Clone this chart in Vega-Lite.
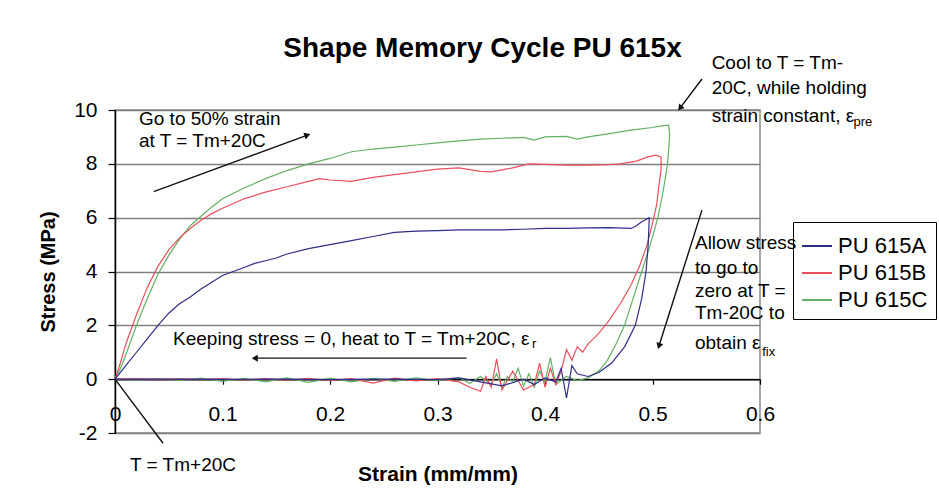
{
  "$schema": "https://vega.github.io/schema/vega-lite/v6.json",
  "width": 645,
  "height": 323,
  "autosize": "none",
  "padding": {"left": 115, "top": 110, "right": 179, "bottom": 71},
  "background": "white",
  "title": {"text": "Shape Memory Cycle PU 615x", "font": "Liberation Sans", "fontSize": 28, "fontWeight": "bold", "color": "#000000", "anchor": "middle", "dx": 45, "offset": -9},
  "config": {"view": {"stroke": "#8a8a8a", "strokeWidth": 1.5}, "font": "Liberation Sans"},
  "datasets": {
    "curves": [
      {"series":"PU 615C","i":1,"strain":0,"stress":0},{"series":"PU 615C","i":2,"strain":0.005,"stress":0.4},{"series":"PU 615C","i":3,"strain":0.01,"stress":0.9},{"series":"PU 615C","i":4,"strain":0.02,"stress":2.0},{"series":"PU 615C","i":5,"strain":0.03,"stress":3.0},{"series":"PU 615C","i":6,"strain":0.04,"stress":3.9},{"series":"PU 615C","i":7,"strain":0.05,"stress":4.6},{"series":"PU 615C","i":8,"strain":0.06,"stress":5.2},{"series":"PU 615C","i":9,"strain":0.07,"stress":5.7},{"series":"PU 615C","i":10,"strain":0.08,"stress":6.05},{"series":"PU 615C","i":11,"strain":0.09,"stress":6.4},{"series":"PU 615C","i":12,"strain":0.1,"stress":6.7},{"series":"PU 615C","i":13,"strain":0.12,"stress":7.1},{"series":"PU 615C","i":14,"strain":0.14,"stress":7.45},{"series":"PU 615C","i":15,"strain":0.16,"stress":7.75},{"series":"PU 615C","i":16,"strain":0.18,"stress":8.0},{"series":"PU 615C","i":17,"strain":0.2,"stress":8.2},{"series":"PU 615C","i":18,"strain":0.22,"stress":8.45},{"series":"PU 615C","i":19,"strain":0.24,"stress":8.55},{"series":"PU 615C","i":20,"strain":0.26,"stress":8.62},{"series":"PU 615C","i":21,"strain":0.28,"stress":8.7},{"series":"PU 615C","i":22,"strain":0.3,"stress":8.78},{"series":"PU 615C","i":23,"strain":0.32,"stress":8.85},{"series":"PU 615C","i":24,"strain":0.34,"stress":8.92},{"series":"PU 615C","i":25,"strain":0.36,"stress":8.95},{"series":"PU 615C","i":26,"strain":0.38,"stress":8.98},{"series":"PU 615C","i":27,"strain":0.39,"stress":8.88},{"series":"PU 615C","i":28,"strain":0.4,"stress":9.0},{"series":"PU 615C","i":29,"strain":0.42,"stress":9.02},{"series":"PU 615C","i":30,"strain":0.43,"stress":8.92},{"series":"PU 615C","i":31,"strain":0.44,"stress":9.0},{"series":"PU 615C","i":32,"strain":0.46,"stress":9.12},{"series":"PU 615C","i":33,"strain":0.48,"stress":9.25},{"series":"PU 615C","i":34,"strain":0.5,"stress":9.35},{"series":"PU 615C","i":35,"strain":0.51,"stress":9.42},{"series":"PU 615C","i":36,"strain":0.515,"stress":9.44},{"series":"PU 615C","i":37,"strain":0.516,"stress":9.1},{"series":"PU 615C","i":38,"strain":0.514,"stress":8.0},{"series":"PU 615C","i":39,"strain":0.51,"stress":7.0},{"series":"PU 615C","i":40,"strain":0.505,"stress":6.0},{"series":"PU 615C","i":41,"strain":0.498,"stress":5.0},{"series":"PU 615C","i":42,"strain":0.49,"stress":4.0},{"series":"PU 615C","i":43,"strain":0.482,"stress":3.0},{"series":"PU 615C","i":44,"strain":0.474,"stress":2.0},{"series":"PU 615C","i":45,"strain":0.466,"stress":1.3},{"series":"PU 615C","i":46,"strain":0.458,"stress":0.7},{"series":"PU 615C","i":47,"strain":0.45,"stress":0.3},{"series":"PU 615C","i":48,"strain":0.44,"stress":0.05},{"series":"PU 615C","i":49,"strain":0.43,"stress":-0.05},{"series":"PU 615C","i":50,"strain":0.42,"stress":0.1},{"series":"PU 615C","i":51,"strain":0.41,"stress":-0.2},{"series":"PU 615C","i":52,"strain":0.405,"stress":0.8},{"series":"PU 615C","i":53,"strain":0.4,"stress":-0.1},{"series":"PU 615C","i":54,"strain":0.395,"stress":0.3},{"series":"PU 615C","i":55,"strain":0.39,"stress":-0.3},{"series":"PU 615C","i":56,"strain":0.385,"stress":0.2},{"series":"PU 615C","i":57,"strain":0.38,"stress":-0.25},{"series":"PU 615C","i":58,"strain":0.375,"stress":0.4},{"series":"PU 615C","i":59,"strain":0.37,"stress":-0.1},{"series":"PU 615C","i":60,"strain":0.365,"stress":0.1},{"series":"PU 615C","i":61,"strain":0.36,"stress":-0.3},{"series":"PU 615C","i":62,"strain":0.355,"stress":0.2},{"series":"PU 615C","i":63,"strain":0.35,"stress":-0.2},{"series":"PU 615C","i":64,"strain":0.34,"stress":0.1},{"series":"PU 615C","i":65,"strain":0.33,"stress":-0.15},{"series":"PU 615C","i":66,"strain":0.32,"stress":0.05},{"series":"PU 615C","i":67,"strain":0.3,"stress":-0.05},{"series":"PU 615C","i":68,"strain":0.28,"stress":0.05},{"series":"PU 615C","i":69,"strain":0.26,"stress":-0.08},{"series":"PU 615C","i":70,"strain":0.24,"stress":0.03},{"series":"PU 615C","i":71,"strain":0.22,"stress":-0.1},{"series":"PU 615C","i":72,"strain":0.2,"stress":0.04},{"series":"PU 615C","i":73,"strain":0.18,"stress":-0.12},{"series":"PU 615C","i":74,"strain":0.16,"stress":0.05},{"series":"PU 615C","i":75,"strain":0.14,"stress":-0.1},{"series":"PU 615C","i":76,"strain":0.12,"stress":0.03},{"series":"PU 615C","i":77,"strain":0.1,"stress":-0.08},{"series":"PU 615C","i":78,"strain":0.08,"stress":0.04},{"series":"PU 615C","i":79,"strain":0.06,"stress":-0.05},{"series":"PU 615C","i":80,"strain":0.04,"stress":0.02},{"series":"PU 615C","i":81,"strain":0.02,"stress":-0.03},{"series":"PU 615C","i":82,"strain":0,"stress":0},
      {"series":"PU 615B","i":1,"strain":0,"stress":0},{"series":"PU 615B","i":2,"strain":0.005,"stress":0.6},{"series":"PU 615B","i":3,"strain":0.01,"stress":1.3},{"series":"PU 615B","i":4,"strain":0.02,"stress":2.4},{"series":"PU 615B","i":5,"strain":0.03,"stress":3.4},{"series":"PU 615B","i":6,"strain":0.04,"stress":4.2},{"series":"PU 615B","i":7,"strain":0.05,"stress":4.8},{"series":"PU 615B","i":8,"strain":0.06,"stress":5.25},{"series":"PU 615B","i":9,"strain":0.07,"stress":5.6},{"series":"PU 615B","i":10,"strain":0.08,"stress":5.9},{"series":"PU 615B","i":11,"strain":0.09,"stress":6.15},{"series":"PU 615B","i":12,"strain":0.1,"stress":6.35},{"series":"PU 615B","i":13,"strain":0.12,"stress":6.7},{"series":"PU 615B","i":14,"strain":0.14,"stress":6.95},{"series":"PU 615B","i":15,"strain":0.16,"stress":7.15},{"series":"PU 615B","i":16,"strain":0.18,"stress":7.35},{"series":"PU 615B","i":17,"strain":0.19,"stress":7.45},{"series":"PU 615B","i":18,"strain":0.2,"stress":7.4},{"series":"PU 615B","i":19,"strain":0.22,"stress":7.35},{"series":"PU 615B","i":20,"strain":0.24,"stress":7.5},{"series":"PU 615B","i":21,"strain":0.26,"stress":7.6},{"series":"PU 615B","i":22,"strain":0.28,"stress":7.7},{"series":"PU 615B","i":23,"strain":0.3,"stress":7.8},{"series":"PU 615B","i":24,"strain":0.32,"stress":7.85},{"series":"PU 615B","i":25,"strain":0.34,"stress":7.72},{"series":"PU 615B","i":26,"strain":0.35,"stress":7.7},{"series":"PU 615B","i":27,"strain":0.37,"stress":7.85},{"series":"PU 615B","i":28,"strain":0.385,"stress":8.0},{"series":"PU 615B","i":29,"strain":0.4,"stress":7.98},{"series":"PU 615B","i":30,"strain":0.42,"stress":7.95},{"series":"PU 615B","i":31,"strain":0.44,"stress":7.95},{"series":"PU 615B","i":32,"strain":0.46,"stress":7.97},{"series":"PU 615B","i":33,"strain":0.47,"stress":8.0},{"series":"PU 615B","i":34,"strain":0.485,"stress":8.1},{"series":"PU 615B","i":35,"strain":0.495,"stress":8.25},{"series":"PU 615B","i":36,"strain":0.503,"stress":8.32},{"series":"PU 615B","i":37,"strain":0.508,"stress":8.25},{"series":"PU 615B","i":38,"strain":0.508,"stress":7.8},{"series":"PU 615B","i":39,"strain":0.506,"stress":7.2},{"series":"PU 615B","i":40,"strain":0.504,"stress":6.5},{"series":"PU 615B","i":41,"strain":0.5,"stress":5.8},{"series":"PU 615B","i":42,"strain":0.495,"stress":5.0},{"series":"PU 615B","i":43,"strain":0.488,"stress":4.2},{"series":"PU 615B","i":44,"strain":0.48,"stress":3.5},{"series":"PU 615B","i":45,"strain":0.47,"stress":2.8},{"series":"PU 615B","i":46,"strain":0.46,"stress":2.2},{"series":"PU 615B","i":47,"strain":0.45,"stress":1.7},{"series":"PU 615B","i":48,"strain":0.44,"stress":1.3},{"series":"PU 615B","i":49,"strain":0.435,"stress":1.0},{"series":"PU 615B","i":50,"strain":0.43,"stress":1.2},{"series":"PU 615B","i":51,"strain":0.425,"stress":0.7},{"series":"PU 615B","i":52,"strain":0.42,"stress":1.1},{"series":"PU 615B","i":53,"strain":0.415,"stress":0.3},{"series":"PU 615B","i":54,"strain":0.41,"stress":-0.2},{"series":"PU 615B","i":55,"strain":0.405,"stress":0.4},{"series":"PU 615B","i":56,"strain":0.4,"stress":-0.3},{"series":"PU 615B","i":57,"strain":0.395,"stress":0.6},{"series":"PU 615B","i":58,"strain":0.39,"stress":-0.2},{"series":"PU 615B","i":59,"strain":0.38,"stress":-0.4},{"series":"PU 615B","i":60,"strain":0.37,"stress":0.3},{"series":"PU 615B","i":61,"strain":0.36,"stress":-0.4},{"series":"PU 615B","i":62,"strain":0.355,"stress":0.75},{"series":"PU 615B","i":63,"strain":0.35,"stress":-0.3},{"series":"PU 615B","i":64,"strain":0.345,"stress":0.1},{"series":"PU 615B","i":65,"strain":0.34,"stress":-0.45},{"series":"PU 615B","i":66,"strain":0.33,"stress":-0.3},{"series":"PU 615B","i":67,"strain":0.32,"stress":-0.1},{"series":"PU 615B","i":68,"strain":0.3,"stress":0.02},{"series":"PU 615B","i":69,"strain":0.28,"stress":-0.06},{"series":"PU 615B","i":70,"strain":0.26,"stress":0.04},{"series":"PU 615B","i":71,"strain":0.24,"stress":-0.15},{"series":"PU 615B","i":72,"strain":0.22,"stress":0.02},{"series":"PU 615B","i":73,"strain":0.2,"stress":-0.05},{"series":"PU 615B","i":74,"strain":0.18,"stress":0.03},{"series":"PU 615B","i":75,"strain":0.16,"stress":-0.04},{"series":"PU 615B","i":76,"strain":0.14,"stress":0.02},{"series":"PU 615B","i":77,"strain":0.12,"stress":-0.03},{"series":"PU 615B","i":78,"strain":0.1,"stress":0.02},{"series":"PU 615B","i":79,"strain":0.08,"stress":-0.02},{"series":"PU 615B","i":80,"strain":0.06,"stress":0.01},{"series":"PU 615B","i":81,"strain":0.04,"stress":-0.02},{"series":"PU 615B","i":82,"strain":0.02,"stress":0.01},{"series":"PU 615B","i":83,"strain":0,"stress":0},
      {"series":"PU 615A","i":1,"strain":0,"stress":0},{"series":"PU 615A","i":2,"strain":0.01,"stress":0.5},{"series":"PU 615A","i":3,"strain":0.02,"stress":1.0},{"series":"PU 615A","i":4,"strain":0.03,"stress":1.5},{"series":"PU 615A","i":5,"strain":0.04,"stress":2.0},{"series":"PU 615A","i":6,"strain":0.05,"stress":2.45},{"series":"PU 615A","i":7,"strain":0.06,"stress":2.8},{"series":"PU 615A","i":8,"strain":0.07,"stress":3.05},{"series":"PU 615A","i":9,"strain":0.08,"stress":3.35},{"series":"PU 615A","i":10,"strain":0.09,"stress":3.6},{"series":"PU 615A","i":11,"strain":0.1,"stress":3.85},{"series":"PU 615A","i":12,"strain":0.11,"stress":4.0},{"series":"PU 615A","i":13,"strain":0.12,"stress":4.15},{"series":"PU 615A","i":14,"strain":0.13,"stress":4.3},{"series":"PU 615A","i":15,"strain":0.14,"stress":4.4},{"series":"PU 615A","i":16,"strain":0.15,"stress":4.5},{"series":"PU 615A","i":17,"strain":0.16,"stress":4.65},{"series":"PU 615A","i":18,"strain":0.18,"stress":4.85},{"series":"PU 615A","i":19,"strain":0.2,"stress":5.0},{"series":"PU 615A","i":20,"strain":0.22,"stress":5.15},{"series":"PU 615A","i":21,"strain":0.24,"stress":5.3},{"series":"PU 615A","i":22,"strain":0.26,"stress":5.45},{"series":"PU 615A","i":23,"strain":0.28,"stress":5.5},{"series":"PU 615A","i":24,"strain":0.3,"stress":5.52},{"series":"PU 615A","i":25,"strain":0.32,"stress":5.55},{"series":"PU 615A","i":26,"strain":0.34,"stress":5.55},{"series":"PU 615A","i":27,"strain":0.36,"stress":5.55},{"series":"PU 615A","i":28,"strain":0.38,"stress":5.57},{"series":"PU 615A","i":29,"strain":0.4,"stress":5.6},{"series":"PU 615A","i":30,"strain":0.42,"stress":5.6},{"series":"PU 615A","i":31,"strain":0.44,"stress":5.62},{"series":"PU 615A","i":32,"strain":0.46,"stress":5.63},{"series":"PU 615A","i":33,"strain":0.48,"stress":5.6},{"series":"PU 615A","i":34,"strain":0.485,"stress":5.7},{"series":"PU 615A","i":35,"strain":0.49,"stress":5.85},{"series":"PU 615A","i":36,"strain":0.497,"stress":6.0},{"series":"PU 615A","i":37,"strain":0.496,"stress":5.0},{"series":"PU 615A","i":38,"strain":0.494,"stress":4.0},{"series":"PU 615A","i":39,"strain":0.49,"stress":3.0},{"series":"PU 615A","i":40,"strain":0.484,"stress":2.0},{"series":"PU 615A","i":41,"strain":0.474,"stress":1.2},{"series":"PU 615A","i":42,"strain":0.462,"stress":0.6},{"series":"PU 615A","i":43,"strain":0.45,"stress":0.25},{"series":"PU 615A","i":44,"strain":0.44,"stress":0.1},{"series":"PU 615A","i":45,"strain":0.43,"stress":0.2},{"series":"PU 615A","i":46,"strain":0.425,"stress":0.5},{"series":"PU 615A","i":47,"strain":0.42,"stress":-0.7},{"series":"PU 615A","i":48,"strain":0.415,"stress":0.4},{"series":"PU 615A","i":49,"strain":0.41,"stress":-0.1},{"series":"PU 615A","i":50,"strain":0.4,"stress":0.05},{"series":"PU 615A","i":51,"strain":0.39,"stress":-0.2},{"series":"PU 615A","i":52,"strain":0.38,"stress":0.0},{"series":"PU 615A","i":53,"strain":0.36,"stress":-0.25},{"series":"PU 615A","i":54,"strain":0.34,"stress":-0.1},{"series":"PU 615A","i":55,"strain":0.32,"stress":0.05},{"series":"PU 615A","i":56,"strain":0.3,"stress":-0.02},{"series":"PU 615A","i":57,"strain":0.25,"stress":0.0},{"series":"PU 615A","i":58,"strain":0.2,"stress":-0.02},{"series":"PU 615A","i":59,"strain":0.15,"stress":0.0},{"series":"PU 615A","i":60,"strain":0.1,"stress":-0.01},{"series":"PU 615A","i":61,"strain":0.05,"stress":0.0},{"series":"PU 615A","i":62,"strain":0,"stress":0}
    ],
    "arrows": [
      {"name":"go","strain":0.036,"stress":6.97,"strain2":0.179,"stress2":9.07},
      {"name":"keep","strain":0.327,"stress":0.78,"strain2":0.13,"stress2":0.78},
      {"name":"cool","strain":0.546,"stress":11.15,"strain2":0.5256,"stress2":10.07},
      {"name":"allow","strain":0.546,"stress":6.28,"strain2":0.506,"stress2":1.23},
      {"name":"origin","strain":0,"stress":0,"strain2":0.0447,"stress2":-2.38}
    ],
    "notes": [
      {"kind":"main","strain":0.0223,"stress":9.67,"label":"Go to 50% strain"},
      {"kind":"main","strain":0.0223,"stress":8.85,"label":"at T = Tm+20C"},
      {"kind":"main","strain":0.555,"stress":11.75,"label":"Cool to T = Tm-"},
      {"kind":"main","strain":0.555,"stress":10.82,"label":"20C, while holding"},
      {"kind":"main","strain":0.555,"stress":9.78,"label":"strain constant, ε"},
      {"kind":"main","strain":0.5395,"stress":5.06,"label":"Allow stress"},
      {"kind":"main","strain":0.5395,"stress":4.13,"label":"to go to"},
      {"kind":"main","strain":0.5395,"stress":3.27,"label":"zero at T ="},
      {"kind":"main","strain":0.5395,"stress":2.45,"label":"Tm-20C to"},
      {"kind":"main","strain":0.5395,"stress":1.34,"label":"obtain ε"},
      {"kind":"main","strain":0.054,"stress":1.49,"label":"Keeping stress = 0, heat to T = Tm+20C, ε"},
      {"kind":"main","strain":0.014,"stress":-3.2,"label":"T = Tm+20C"},
      {"kind":"sub","strain":0.687,"stress":9.55,"label":"pre"},
      {"kind":"sub","strain":0.602,"stress":1.0,"label":"fix"},
      {"kind":"sub","strain":0.388,"stress":1.3,"label":"r"}
    ]
  },
  "layer": [
    {
      "data": {"name": "curves"},
      "mark": {"type": "line", "strokeWidth": 1.2},
      "encoding": {
        "x": {"field": "strain", "type": "quantitative", "scale": {"domain": [0, 0.6], "nice": false, "zero": false},
              "axis": {"title": "Strain (mm/mm)", "titleFont": "Liberation Sans", "titleFontSize": 21, "titleFontWeight": "bold", "titleColor": "#000000", "titlePadding": 39,
                       "values": [0, 0.1, 0.2, 0.3, 0.4, 0.5, 0.6], "format": ".1~f", "labelFont": "Liberation Sans", "labelFontSize": 21, "labelColor": "#000000", "labelPadding": 19,
                       "offset": -53.8, "domainColor": "#000000", "domainWidth": 1.5, "tickColor": "#000000", "tickSize": 5, "tickWidth": 1.2, "grid": false, "labelFlush": false, "labelOverlap": false}},
        "y": {"field": "stress", "type": "quantitative", "scale": {"domain": [-2, 10], "nice": false, "zero": false},
              "axis": {"title": "Stress (MPa)", "titleFont": "Liberation Sans", "titleFontSize": 20, "titleFontWeight": "bold", "titleColor": "#000000", "titlePadding": 15,
                       "values": [-2, 0, 2, 4, 6, 8, 10], "labelExpr": "'' + datum.value", "labelFont": "Liberation Sans", "labelFontSize": 21, "labelColor": "#000000", "labelPadding": 11,
                       "domainColor": "#000000", "domainWidth": 1.5, "tickColor": "#000000", "tickSize": 7, "tickWidth": 1.2,
                       "grid": true, "gridColor": "#7f7f7f", "gridWidth": 1.5, "labelFlush": false, "labelOverlap": false}},
        "color": {"field": "series", "type": "nominal",
                  "scale": {"domain": ["PU 615A", "PU 615B", "PU 615C"], "range": ["#2e2e8a", "#ea4f5c", "#64b064"]},
                  "legend": {"orient": "none", "legendX": 678, "legendY": 112, "title": null, "strokeColor": "#000000", "padding": 8,
                             "labelFont": "Liberation Sans", "labelFontSize": 22, "labelColor": "#000000", "symbolType": "stroke", "symbolSize": 900,
                             "symbolStrokeWidth": 2, "labelOffset": 5, "rowPadding": 0}},
        "order": {"field": "i", "type": "quantitative"}
      }
    },
    {
      "data": {"name": "arrows"},
      "mark": {"type": "rule", "color": "#111111", "strokeWidth": 1.4},
      "encoding": {
        "x": {"field": "strain", "type": "quantitative", "title": "Strain (mm/mm)", "scale": {"domain": [0, 0.6], "nice": false, "zero": false}},
        "y": {"field": "stress", "type": "quantitative", "title": "Stress (MPa)", "scale": {"domain": [-2, 10], "nice": false, "zero": false}},
        "x2": {"field": "strain2"},
        "y2": {"field": "stress2"}
      }
    },
    {
      "data": {"name": "arrows"},
      "transform": [{"filter": "datum.name == 'go'"}],
      "mark": {"type": "point", "shape": "triangle-up", "angle": 70, "filled": true, "color": "#111111", "size": 50, "opacity": 1},
      "encoding": {
        "x": {"field": "strain2", "type": "quantitative", "title": "Strain (mm/mm)", "scale": {"domain": [0, 0.6], "nice": false, "zero": false}},
        "y": {"field": "stress2", "type": "quantitative", "title": "Stress (MPa)", "scale": {"domain": [-2, 10], "nice": false, "zero": false}}
      }
    },
    {
      "data": {"name": "arrows"},
      "transform": [{"filter": "datum.name == 'keep'"}],
      "mark": {"type": "point", "shape": "triangle-left", "filled": true, "color": "#111111", "size": 50, "opacity": 1},
      "encoding": {
        "x": {"field": "strain2", "type": "quantitative", "title": "Strain (mm/mm)", "scale": {"domain": [0, 0.6], "nice": false, "zero": false}},
        "y": {"field": "stress2", "type": "quantitative", "title": "Stress (MPa)", "scale": {"domain": [-2, 10], "nice": false, "zero": false}}
      }
    },
    {
      "data": {"name": "arrows"},
      "transform": [{"filter": "datum.name == 'cool'"}],
      "mark": {"type": "point", "shape": "triangle-up", "angle": 219, "filled": true, "color": "#111111", "size": 50, "opacity": 1},
      "encoding": {
        "x": {"field": "strain2", "type": "quantitative", "title": "Strain (mm/mm)", "scale": {"domain": [0, 0.6], "nice": false, "zero": false}},
        "y": {"field": "stress2", "type": "quantitative", "title": "Stress (MPa)", "scale": {"domain": [-2, 10], "nice": false, "zero": false}}
      }
    },
    {
      "data": {"name": "arrows"},
      "transform": [{"filter": "datum.name == 'allow'"}],
      "mark": {"type": "point", "shape": "triangle-up", "angle": 197.5, "filled": true, "color": "#111111", "size": 50, "opacity": 1},
      "encoding": {
        "x": {"field": "strain2", "type": "quantitative", "title": "Strain (mm/mm)", "scale": {"domain": [0, 0.6], "nice": false, "zero": false}},
        "y": {"field": "stress2", "type": "quantitative", "title": "Stress (MPa)", "scale": {"domain": [-2, 10], "nice": false, "zero": false}}
      }
    },
    {
      "data": {"name": "notes"},
      "transform": [{"filter": "datum.kind == 'main'"}],
      "mark": {"type": "text", "align": "left", "baseline": "middle", "font": "Liberation Sans", "fontSize": 19, "color": "#000000"},
      "encoding": {
        "x": {"field": "strain", "type": "quantitative", "title": "Strain (mm/mm)", "scale": {"domain": [0, 0.6], "nice": false, "zero": false}},
        "y": {"field": "stress", "type": "quantitative", "title": "Stress (MPa)", "scale": {"domain": [-2, 10], "nice": false, "zero": false}},
        "text": {"field": "label"}
      }
    },
    {
      "data": {"name": "notes"},
      "transform": [{"filter": "datum.kind == 'sub'"}],
      "mark": {"type": "text", "align": "left", "baseline": "middle", "font": "Liberation Sans", "fontSize": 13, "color": "#000000"},
      "encoding": {
        "x": {"field": "strain", "type": "quantitative", "title": "Strain (mm/mm)", "scale": {"domain": [0, 0.6], "nice": false, "zero": false}},
        "y": {"field": "stress", "type": "quantitative", "title": "Stress (MPa)", "scale": {"domain": [-2, 10], "nice": false, "zero": false}},
        "text": {"field": "label"}
      }
    }
  ]
}
